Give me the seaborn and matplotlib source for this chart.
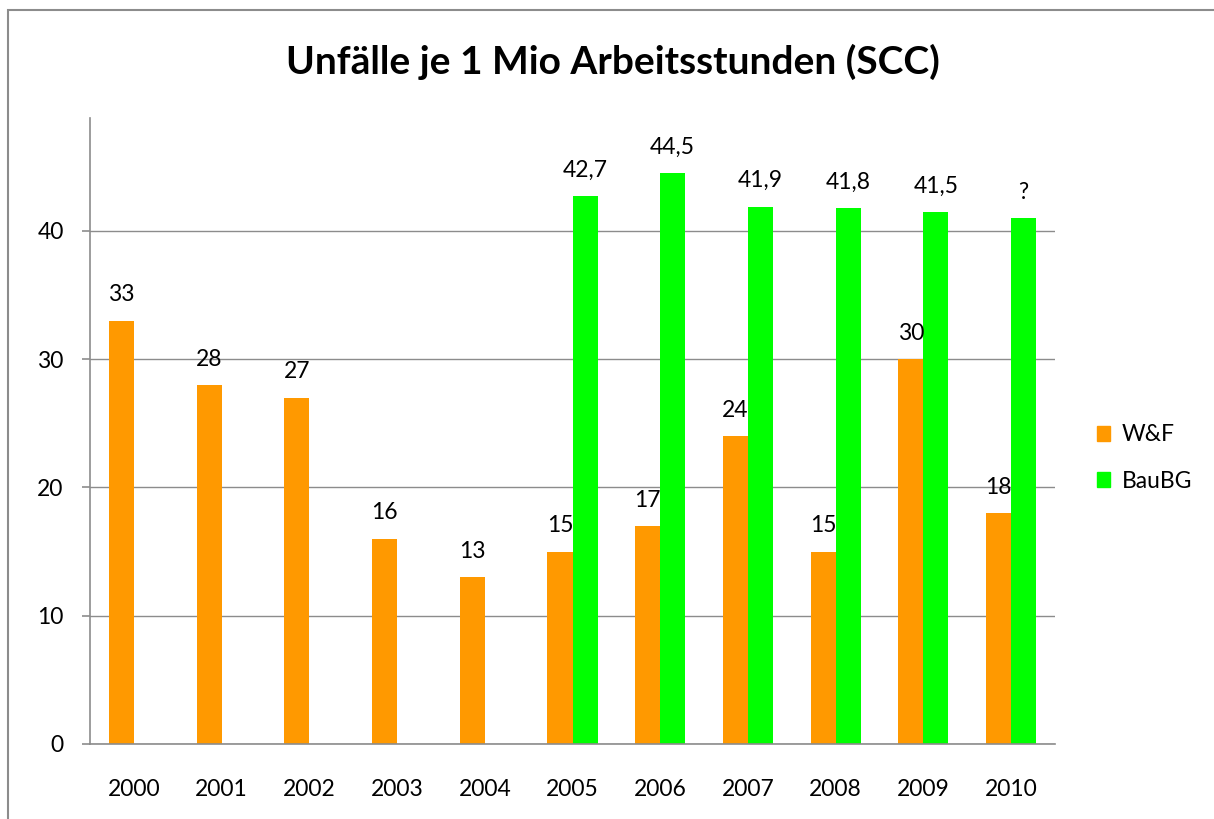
import pandas as pd
import numpy as np
import matplotlib
matplotlib.use("Agg")
import matplotlib.pyplot as plt
from matplotlib.patches import Rectangle
import seaborn as sns

years = ["2000", "2001", "2002", "2003", "2004", "2005", "2006", "2007", "2008", "2009", "2010"]
wf = [33, 28, 27, 16, 13, 15, 17, 24, 15, 30, 18]
baubg = [np.nan, np.nan, np.nan, np.nan, np.nan, 42.7, 44.5, 41.9, 41.8, 41.5, 41]
wf_labels = ["33", "28", "27", "16", "13", "15", "17", "24", "15", "30", "18"]
baubg_labels = ["", "", "", "", "", "42,7", "44,5", "41,9", "41,8", "41,5", "?"]
series = ["W&F", "BauBG"]
colors = ["#FF9900", "#00FF00"]

df = pd.DataFrame({"Jahr": years * 2,
                   "Wert": wf + baubg,
                   "Serie": [series[0]] * len(years) + [series[1]] * len(years)})
df = df.dropna()

sns.set_style("white")
plt.rcParams["font.family"] = ["Lato", "DejaVu Sans"]
plt.rcParams["text.color"] = "black"
plt.rcParams["xtick.color"] = "black"
plt.rcParams["ytick.color"] = "black"

fig = plt.figure(figsize=(12.14, 8.19), dpi=100)
ax = fig.add_axes([90 / 1214, 75 / 819, 965 / 1214, 626 / 819])

sns.barplot(data=df, x="Jahr", y="Wert", hue="Serie", order=years, hue_order=series,
            palette=colors, width=0.57, saturation=1, dodge=True, ax=ax, legend=False,
            linewidth=0)

# Werte ueber den Balken
labels = {series[0]: wf_labels, series[1]: baubg_labels}
for cont, s in zip(ax.containers, series):
    txt = []
    for bar in cont:
        i = int(round(bar.get_x() + bar.get_width() / 2))
        txt.append(labels[s][i])
    ax.bar_label(cont, labels=txt, padding=11, fontsize=16.5)

ax.set_xlim(-0.5, 10.5)
ax.set_ylim(0, 48.8)
ax.set_yticks([0, 10, 20, 30, 40])
ax.yaxis.grid(True, color="#8c8c8c", linewidth=1)
ax.set_axisbelow(True)
ax.set_xlabel("")
ax.set_ylabel("")
for side in ["top", "right"]:
    ax.spines[side].set_visible(False)
for side in ["left", "bottom"]:
    ax.spines[side].set_color("#8c8c8c")
    ax.spines[side].set_linewidth(1.2)

ax.tick_params(axis="x", which="major", length=0, pad=25, labelsize=16.5)
ax.set_xticks(np.arange(-0.5, 11, 1), minor=True)
ax.tick_params(axis="x", which="minor", length=6, color="#8c8c8c", width=1.2)
ax.tick_params(axis="y", length=6, color="#8c8c8c", labelcolor="black", width=1.2, pad=13,
               labelsize=16.5, left=True)

handles = [Rectangle((0, 0), 1, 1, color=c) for c in colors]
fig.legend(handles, series, loc="center left", bbox_to_anchor=(1076 / 1214, 1 - 458 / 819),
           frameon=False, fontsize=16.5, handlelength=0.6, handleheight=0.6,
           labelspacing=1.1, handletextpad=0.5)

fig.suptitle("Unfälle je 1 Mio Arbeitsstunden (SCC)", x=613 / 1214, y=1 - 62 / 819,
             va="center", fontsize=28, fontweight="bold", color="black")

fig.patches.append(Rectangle((8 / 1214, -0.1), 1.2, 1 - 10 / 819 + 0.1, transform=fig.transFigure,
                             fill=False, edgecolor="#8c8c8c", linewidth=1.5))

fig.savefig("out.png", dpi=100)
